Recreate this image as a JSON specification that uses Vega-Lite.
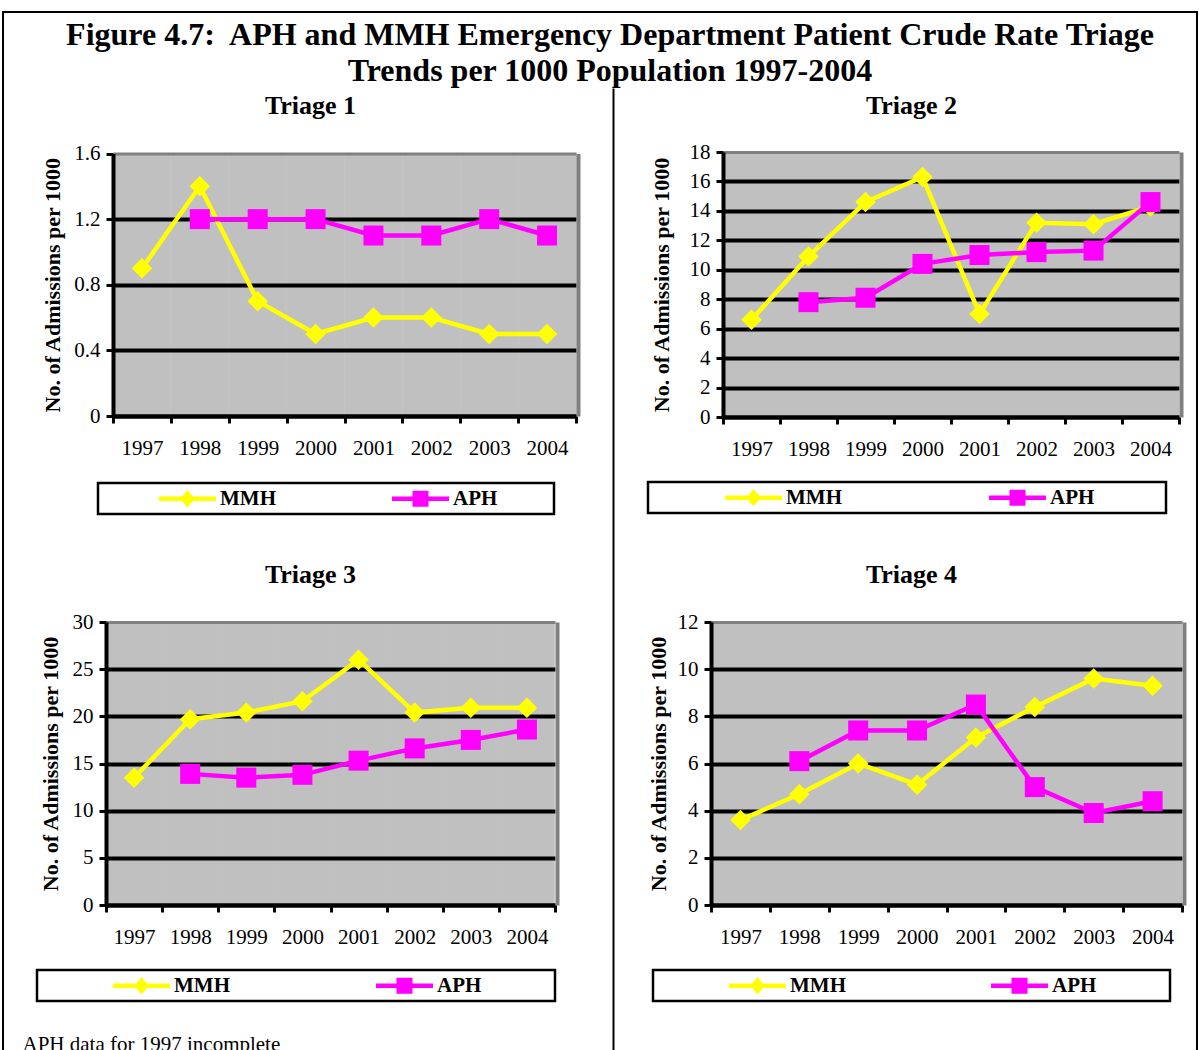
{
  "$schema": "https://vega.github.io/schema/vega-lite/v6.json",
  "width": 1194,
  "height": 1040,
  "autosize": "none",
  "padding": {"left": 3, "top": 12, "right": 2, "bottom": -2},
  "background": "white",
  "title": {
    "text": ["Figure 4.7:\u00a0 APH and MMH Emergency Department Patient Crude Rate Triage", "Trends per 1000 Population 1997-2004"],
    "fontSize": 32, "fontWeight": "bold", "font": "Liberation Serif", "color": "black",
    "anchor": "middle", "lineHeight": 36, "offset": -76, "dx": 10
  },
  "config": {
    "font": "Liberation Serif",
    "view": {"stroke": "black", "strokeWidth": 2},
    "axis": {
      "domainColor": "black", "domainWidth": 4, "tickColor": "black", "tickWidth": 3, "tickSize": 7,
      "labelFontSize": 21, "labelColor": "black", "labelFont": "Liberation Serif",
      "titleFont": "Liberation Serif", "titleColor": "black", "titleFontWeight": "bold",
      "gridColor": "black", "gridWidth": 4, "grid": false
    },
    "legend": {
      "title": null, "orient": "none", "direction": "horizontal",
      "strokeColor": "black", "strokeWidth": 2.5, "padding": 5,
      "symbolSize": 256, "symbolStrokeWidth": 0, "symbolOpacity": 1, "labelOffset": 22,
      "labelFontSize": 21, "labelFontWeight": "bold", "labelColor": "black", "labelFont": "Liberation Serif", "labelLimit": 300
    }
  },
  "datasets": {
    "triage": [
      {"panel": 1, "year": "1997", "series": "MMH", "value": 0.9},
      {"panel": 1, "year": "1998", "series": "MMH", "value": 1.4},
      {"panel": 1, "year": "1999", "series": "MMH", "value": 0.7},
      {"panel": 1, "year": "2000", "series": "MMH", "value": 0.5},
      {"panel": 1, "year": "2001", "series": "MMH", "value": 0.6},
      {"panel": 1, "year": "2002", "series": "MMH", "value": 0.6},
      {"panel": 1, "year": "2003", "series": "MMH", "value": 0.5},
      {"panel": 1, "year": "2004", "series": "MMH", "value": 0.5},
      {"panel": 1, "year": "1998", "series": "APH", "value": 1.2},
      {"panel": 1, "year": "1999", "series": "APH", "value": 1.2},
      {"panel": 1, "year": "2000", "series": "APH", "value": 1.2},
      {"panel": 1, "year": "2001", "series": "APH", "value": 1.1},
      {"panel": 1, "year": "2002", "series": "APH", "value": 1.1},
      {"panel": 1, "year": "2003", "series": "APH", "value": 1.2},
      {"panel": 1, "year": "2004", "series": "APH", "value": 1.1},
      {"panel": 2, "year": "1997", "series": "MMH", "value": 6.6},
      {"panel": 2, "year": "1998", "series": "MMH", "value": 10.9},
      {"panel": 2, "year": "1999", "series": "MMH", "value": 14.6},
      {"panel": 2, "year": "2000", "series": "MMH", "value": 16.3},
      {"panel": 2, "year": "2001", "series": "MMH", "value": 7.0},
      {"panel": 2, "year": "2002", "series": "MMH", "value": 13.2},
      {"panel": 2, "year": "2003", "series": "MMH", "value": 13.1},
      {"panel": 2, "year": "2004", "series": "MMH", "value": 14.3},
      {"panel": 2, "year": "1998", "series": "APH", "value": 7.8},
      {"panel": 2, "year": "1999", "series": "APH", "value": 8.1},
      {"panel": 2, "year": "2000", "series": "APH", "value": 10.4},
      {"panel": 2, "year": "2001", "series": "APH", "value": 11.0},
      {"panel": 2, "year": "2002", "series": "APH", "value": 11.2},
      {"panel": 2, "year": "2003", "series": "APH", "value": 11.3},
      {"panel": 2, "year": "2004", "series": "APH", "value": 14.6},
      {"panel": 3, "year": "1997", "series": "MMH", "value": 13.5},
      {"panel": 3, "year": "1998", "series": "MMH", "value": 19.7},
      {"panel": 3, "year": "1999", "series": "MMH", "value": 20.4},
      {"panel": 3, "year": "2000", "series": "MMH", "value": 21.6},
      {"panel": 3, "year": "2001", "series": "MMH", "value": 26.0},
      {"panel": 3, "year": "2002", "series": "MMH", "value": 20.4},
      {"panel": 3, "year": "2003", "series": "MMH", "value": 20.9},
      {"panel": 3, "year": "2004", "series": "MMH", "value": 20.9},
      {"panel": 3, "year": "1998", "series": "APH", "value": 13.9},
      {"panel": 3, "year": "1999", "series": "APH", "value": 13.5},
      {"panel": 3, "year": "2000", "series": "APH", "value": 13.8},
      {"panel": 3, "year": "2001", "series": "APH", "value": 15.3},
      {"panel": 3, "year": "2002", "series": "APH", "value": 16.6},
      {"panel": 3, "year": "2003", "series": "APH", "value": 17.5},
      {"panel": 3, "year": "2004", "series": "APH", "value": 18.6},
      {"panel": 4, "year": "1997", "series": "MMH", "value": 3.6},
      {"panel": 4, "year": "1998", "series": "MMH", "value": 4.7},
      {"panel": 4, "year": "1999", "series": "MMH", "value": 6.0},
      {"panel": 4, "year": "2000", "series": "MMH", "value": 5.1},
      {"panel": 4, "year": "2001", "series": "MMH", "value": 7.1},
      {"panel": 4, "year": "2002", "series": "MMH", "value": 8.4},
      {"panel": 4, "year": "2003", "series": "MMH", "value": 9.6},
      {"panel": 4, "year": "2004", "series": "MMH", "value": 9.3},
      {"panel": 4, "year": "1998", "series": "APH", "value": 6.1},
      {"panel": 4, "year": "1999", "series": "APH", "value": 7.4},
      {"panel": 4, "year": "2000", "series": "APH", "value": 7.4},
      {"panel": 4, "year": "2001", "series": "APH", "value": 8.5},
      {"panel": 4, "year": "2002", "series": "APH", "value": 5.0},
      {"panel": 4, "year": "2003", "series": "APH", "value": 3.9},
      {"panel": 4, "year": "2004", "series": "APH", "value": 4.4}
    ]
  },
  "layer": [
    {
      "data": {"name": "triage"},
      "transform": [{"filter": "datum.panel == 1"}],
      "layer": [
        {
          "layer": [
            {
              "mark": {"type": "line", "strokeWidth": 4.5},
              "encoding": {
                "x": {"field": "year", "type": "ordinal", "scale": {"type": "band", "range": [110, 573], "paddingInner": 0, "paddingOuter": 0},
                  "axis": {"orient": "bottom", "offset": -636, "tickBand": "extent", "labelAngle": 0, "labelPadding": 14, "title": null}},
                "y": {"field": "value", "type": "quantitative", "scale": {"domain": [0, 1.6], "range": [404, 141.5], "nice": false},
                  "axis": {"orient": "left", "offset": -110, "values": [0, 0.4, 0.8, 1.2, 1.6], "format": ".1~f", "labelPadding": 6,
                    "grid": true, "gridOpacity": {"condition": {"test": "datum.value >= 1.6", "value": 0}, "value": 1},
                    "title": "No. of Admissions per 1000", "titleFontSize": 22, "titleX": -61, "titleBaseline": "middle"}},
                "color": {"field": "series", "type": "nominal", "scale": {"domain": ["MMH", "APH"], "range": ["#FFFF00", "#FF00FF"]},
                  "legend": {"legendX": 95, "legendY": 471, "symbolOffset": 74, "columnPadding": 60,
                    "encode": {"symbols": {"update": {"strokeWidth": {"value": 0}, "size": {"value": 256}, "opacity": {"value": 1}}}}}}
              }
            },
            {
              "transform": [{"filter": "datum.series == 'MMH'"}],
              "mark": {"type": "point", "filled": true, "size": 420, "opacity": 1, "shape": "diamond"},
              "encoding": {
                "x": {"field": "year", "type": "ordinal"},
                "y": {"field": "value", "type": "quantitative"},
                "color": {"field": "series", "type": "nominal"}
              }
            },
            {
              "transform": [{"filter": "datum.series == 'APH'"}],
              "mark": {"type": "point", "filled": true, "size": 400, "opacity": 1, "shape": "square"},
              "encoding": {
                "x": {"field": "year", "type": "ordinal"},
                "y": {"field": "value", "type": "quantitative"},
                "color": {"field": "series", "type": "nominal"}
              }
            },
            {
              "mark": {"type": "point", "opacity": 0, "size": 4},
              "encoding": {
                "x": {"field": "year", "type": "ordinal"},
                "y": {"field": "value", "type": "quantitative"},
                "shape": {"field": "series", "type": "nominal", "scale": {"domain": ["MMH", "APH"], "range": [
                  "M-3.56,-0.28H3.56V0.28H-3.56Z M0,-1.1L0.9,0L0,1.1L-0.9,0Z",
                  "M-3.56,-0.28H3.56V0.28H-3.56Z M-1,-1H1V1H-1Z M16,0Z"]}}
              }
            }
          ]
        },
        {
          "mark": {"type": "point", "opacity": 0},
          "encoding": {
            "x": {"field": "year", "type": "ordinal", "scale": {"type": "band", "range": [110, 573], "paddingInner": 0, "paddingOuter": 0},
              "axis": {"orient": "top", "offset": -141.5, "domainColor": "#808080", "domainWidth": 3, "ticks": false, "labels": false,
                "grid": true, "tickBand": "center", "gridColor": "#C0C0C0", "gridWidth": 58.5,
                "title": "Triage 1", "titleFontSize": 26, "titleX": 307, "titleY": -40, "titleBaseline": "alphabetic", "titleAlign": "center"}},
            "y": {"field": "value", "type": "quantitative", "scale": {"domain": [0, 1.6], "range": [404, 141.5], "nice": false},
              "axis": {"orient": "right", "offset": -619, "domainColor": "#808080", "domainWidth": 4, "ticks": false, "labels": false, "grid": false, "title": null}}
          }
        }
      ],
      "resolve": {"scale": {"x": "independent", "y": "independent"}, "axis": {"x": "independent", "y": "independent"}}
    },
    {
      "data": {"name": "triage"},
      "transform": [{"filter": "datum.panel == 2"}],
      "layer": [
        {
          "layer": [
            {
              "mark": {"type": "line", "strokeWidth": 4.5},
              "encoding": {
                "x": {"field": "year", "type": "ordinal", "scale": {"type": "band", "range": [720, 1176], "paddingInner": 0, "paddingOuter": 0},
                  "axis": {"orient": "bottom", "offset": -635, "tickBand": "extent", "labelAngle": 0, "labelPadding": 14, "title": null}},
                "y": {"field": "value", "type": "quantitative", "scale": {"domain": [0, 18], "range": [405, 140], "nice": false},
                  "axis": {"orient": "left", "offset": -720, "values": [0, 2, 4, 6, 8, 10, 12, 14, 16, 18], "format": "d", "labelPadding": 6,
                    "grid": true, "gridOpacity": {"condition": {"test": "datum.value >= 18", "value": 0}, "value": 1},
                    "title": "No. of Admissions per 1000", "titleFontSize": 22, "titleX": -62, "titleBaseline": "middle"}},
                "color": {"field": "series", "type": "nominal", "scale": {"domain": ["MMH", "APH"], "range": ["#FFFF00", "#FF00FF"]},
                  "legend": {"legendX": 645, "legendY": 470, "symbolOffset": 90, "columnPadding": 75,
                    "encode": {"symbols": {"update": {"strokeWidth": {"value": 0}, "size": {"value": 256}, "opacity": {"value": 1}}}}}}
              }
            },
            {
              "transform": [{"filter": "datum.series == 'MMH'"}],
              "mark": {"type": "point", "filled": true, "size": 420, "opacity": 1, "shape": "diamond"},
              "encoding": {
                "x": {"field": "year", "type": "ordinal"},
                "y": {"field": "value", "type": "quantitative"},
                "color": {"field": "series", "type": "nominal"}
              }
            },
            {
              "transform": [{"filter": "datum.series == 'APH'"}],
              "mark": {"type": "point", "filled": true, "size": 400, "opacity": 1, "shape": "square"},
              "encoding": {
                "x": {"field": "year", "type": "ordinal"},
                "y": {"field": "value", "type": "quantitative"},
                "color": {"field": "series", "type": "nominal"}
              }
            },
            {
              "mark": {"type": "point", "opacity": 0, "size": 4},
              "encoding": {
                "x": {"field": "year", "type": "ordinal"},
                "y": {"field": "value", "type": "quantitative"},
                "shape": {"field": "series", "type": "nominal", "scale": {"domain": ["MMH", "APH"], "range": [
                  "M-3.56,-0.28H3.56V0.28H-3.56Z M0,-1.1L0.9,0L0,1.1L-0.9,0Z",
                  "M-3.56,-0.28H3.56V0.28H-3.56Z M-1,-1H1V1H-1Z M17.9,0Z"]}}
              }
            }
          ]
        },
        {
          "mark": {"type": "point", "opacity": 0},
          "encoding": {
            "x": {"field": "year", "type": "ordinal", "scale": {"type": "band", "range": [720, 1176], "paddingInner": 0, "paddingOuter": 0},
              "axis": {"orient": "top", "offset": -140, "domainColor": "#808080", "domainWidth": 3, "ticks": false, "labels": false,
                "grid": true, "tickBand": "center", "gridColor": "#C0C0C0", "gridWidth": 57.5,
                "title": "Triage 2", "titleFontSize": 26, "titleX": 908, "titleY": -39, "titleBaseline": "alphabetic", "titleAlign": "center"}},
            "y": {"field": "value", "type": "quantitative", "scale": {"domain": [0, 18], "range": [405, 140], "nice": false},
              "axis": {"orient": "right", "offset": -16, "domainColor": "#808080", "domainWidth": 4, "ticks": false, "labels": false, "grid": false, "title": null}}
          }
        }
      ],
      "resolve": {"scale": {"x": "independent", "y": "independent"}, "axis": {"x": "independent", "y": "independent"}}
    },
    {
      "data": {"name": "triage"},
      "transform": [{"filter": "datum.panel == 3"}],
      "layer": [
        {
          "layer": [
            {
              "mark": {"type": "line", "strokeWidth": 4.5},
              "encoding": {
                "x": {"field": "year", "type": "ordinal", "scale": {"type": "band", "range": [103, 552], "paddingInner": 0, "paddingOuter": 0},
                  "axis": {"orient": "bottom", "offset": -147, "tickBand": "extent", "labelAngle": 0, "labelPadding": 14,
                    "title": "APH data for 1997 incomplete", "titleFontSize": 21, "titleFontWeight": "normal", "titleX": 19, "titleY": 145,
                    "titleAlign": "left", "titleBaseline": "alphabetic"}},
                "y": {"field": "value", "type": "quantitative", "scale": {"domain": [0, 30], "range": [893, 610], "nice": false},
                  "axis": {"orient": "left", "offset": -103, "values": [0, 5, 10, 15, 20, 25, 30], "format": "d", "labelPadding": 6,
                    "grid": true, "gridOpacity": {"condition": {"test": "datum.value >= 30", "value": 0}, "value": 1},
                    "title": "No. of Admissions per 1000", "titleFontSize": 22, "titleX": -56, "titleBaseline": "middle"}},
                "color": {"field": "series", "type": "nominal", "scale": {"domain": ["MMH", "APH"], "range": ["#FFFF00", "#FF00FF"]},
                  "legend": {"legendX": 34, "legendY": 958, "symbolOffset": 89, "columnPadding": 75,
                    "encode": {"symbols": {"update": {"strokeWidth": {"value": 0}, "size": {"value": 256}, "opacity": {"value": 1}}}}}}
              }
            },
            {
              "transform": [{"filter": "datum.series == 'MMH'"}],
              "mark": {"type": "point", "filled": true, "size": 420, "opacity": 1, "shape": "diamond"},
              "encoding": {
                "x": {"field": "year", "type": "ordinal"},
                "y": {"field": "value", "type": "quantitative"},
                "color": {"field": "series", "type": "nominal"}
              }
            },
            {
              "transform": [{"filter": "datum.series == 'APH'"}],
              "mark": {"type": "point", "filled": true, "size": 400, "opacity": 1, "shape": "square"},
              "encoding": {
                "x": {"field": "year", "type": "ordinal"},
                "y": {"field": "value", "type": "quantitative"},
                "color": {"field": "series", "type": "nominal"}
              }
            },
            {
              "mark": {"type": "point", "opacity": 0, "size": 4},
              "encoding": {
                "x": {"field": "year", "type": "ordinal"},
                "y": {"field": "value", "type": "quantitative"},
                "shape": {"field": "series", "type": "nominal", "scale": {"domain": ["MMH", "APH"], "range": [
                  "M-3.56,-0.28H3.56V0.28H-3.56Z M0,-1.1L0.9,0L0,1.1L-0.9,0Z",
                  "M-3.56,-0.28H3.56V0.28H-3.56Z M-1,-1H1V1H-1Z M18.1,0Z"]}}
              }
            }
          ]
        },
        {
          "mark": {"type": "point", "opacity": 0},
          "encoding": {
            "x": {"field": "year", "type": "ordinal", "scale": {"type": "band", "range": [103, 552], "paddingInner": 0, "paddingOuter": 0},
              "axis": {"orient": "top", "offset": -610, "domainColor": "#808080", "domainWidth": 3, "ticks": false, "labels": false,
                "grid": true, "tickBand": "center", "gridColor": "#C0C0C0", "gridWidth": 56.6,
                "title": "Triage 3", "titleFontSize": 26, "titleX": 307, "titleY": -40, "titleBaseline": "alphabetic", "titleAlign": "center"}},
            "y": {"field": "value", "type": "quantitative", "scale": {"domain": [0, 30], "range": [893, 610], "nice": false},
              "axis": {"orient": "right", "offset": -640, "domainColor": "#808080", "domainWidth": 4, "ticks": false, "labels": false, "grid": false, "title": null}}
          }
        }
      ],
      "resolve": {"scale": {"x": "independent", "y": "independent"}, "axis": {"x": "independent", "y": "independent"}}
    },
    {
      "data": {"name": "triage"},
      "transform": [{"filter": "datum.panel == 4"}],
      "layer": [
        {
          "layer": [
            {
              "mark": {"type": "line", "strokeWidth": 4.5},
              "encoding": {
                "x": {"field": "year", "type": "ordinal", "scale": {"type": "band", "range": [708, 1179], "paddingInner": 0, "paddingOuter": 0},
                  "axis": {"orient": "bottom", "offset": -147, "tickBand": "extent", "labelAngle": 0, "labelPadding": 14, "title": null}},
                "y": {"field": "value", "type": "quantitative", "scale": {"domain": [0, 12], "range": [893, 610], "nice": false},
                  "axis": {"orient": "left", "offset": -708, "values": [0, 2, 4, 6, 8, 10, 12], "format": "d", "labelPadding": 6,
                    "grid": true, "gridOpacity": {"condition": {"test": "datum.value >= 12", "value": 0}, "value": 1},
                    "title": "No. of Admissions per 1000", "titleFontSize": 22, "titleX": -53, "titleBaseline": "middle"}},
                "color": {"field": "series", "type": "nominal", "scale": {"domain": ["MMH", "APH"], "range": ["#FFFF00", "#FF00FF"]},
                  "legend": {"legendX": 650, "legendY": 958, "symbolOffset": 89, "columnPadding": 74,
                    "encode": {"symbols": {"update": {"strokeWidth": {"value": 0}, "size": {"value": 256}, "opacity": {"value": 1}}}}}}
              }
            },
            {
              "transform": [{"filter": "datum.series == 'MMH'"}],
              "mark": {"type": "point", "filled": true, "size": 420, "opacity": 1, "shape": "diamond"},
              "encoding": {
                "x": {"field": "year", "type": "ordinal"},
                "y": {"field": "value", "type": "quantitative"},
                "color": {"field": "series", "type": "nominal"}
              }
            },
            {
              "transform": [{"filter": "datum.series == 'APH'"}],
              "mark": {"type": "point", "filled": true, "size": 400, "opacity": 1, "shape": "square"},
              "encoding": {
                "x": {"field": "year", "type": "ordinal"},
                "y": {"field": "value", "type": "quantitative"},
                "color": {"field": "series", "type": "nominal"}
              }
            },
            {
              "mark": {"type": "point", "opacity": 0, "size": 4},
              "encoding": {
                "x": {"field": "year", "type": "ordinal"},
                "y": {"field": "value", "type": "quantitative"},
                "shape": {"field": "series", "type": "nominal", "scale": {"domain": ["MMH", "APH"], "range": [
                  "M-3.56,-0.28H3.56V0.28H-3.56Z M0,-1.1L0.9,0L0,1.1L-0.9,0Z",
                  "M-3.56,-0.28H3.56V0.28H-3.56Z M-1,-1H1V1H-1Z M18.1,0Z"]}}
              }
            }
          ]
        },
        {
          "mark": {"type": "point", "opacity": 0},
          "encoding": {
            "x": {"field": "year", "type": "ordinal", "scale": {"type": "band", "range": [708, 1179], "paddingInner": 0, "paddingOuter": 0},
              "axis": {"orient": "top", "offset": -610, "domainColor": "#808080", "domainWidth": 3, "ticks": false, "labels": false,
                "grid": true, "tickBand": "center", "gridColor": "#C0C0C0", "gridWidth": 59.4,
                "title": "Triage 4", "titleFontSize": 26, "titleX": 908, "titleY": -40, "titleBaseline": "alphabetic", "titleAlign": "center"}},
            "y": {"field": "value", "type": "quantitative", "scale": {"domain": [0, 12], "range": [893, 610], "nice": false},
              "axis": {"orient": "right", "offset": -13, "domainColor": "#808080", "domainWidth": 4, "ticks": false, "labels": false, "grid": false, "title": null}}
          }
        }
      ],
      "resolve": {"scale": {"x": "independent", "y": "independent"}, "axis": {"x": "independent", "y": "independent"}}
    },
    {
      "data": {"name": "triage"},
      "mark": {"type": "point", "opacity": 0},
      "encoding": {
        "y": {"field": "value", "type": "quantitative", "scale": {"domain": [0, 26], "range": [1045, 76], "nice": false, "zero": false, "clamp": true},
          "axis": {"orient": "left", "offset": -610, "domainColor": "black", "domainWidth": 2, "ticks": false, "labels": false, "grid": false, "title": null}}
      }
    }
  ],
  "resolve": {
    "scale": {"x": "independent", "y": "independent", "color": "independent", "shape": "independent"},
    "axis": {"x": "independent", "y": "independent"},
    "legend": {"color": "independent", "shape": "independent"}
  }
}
